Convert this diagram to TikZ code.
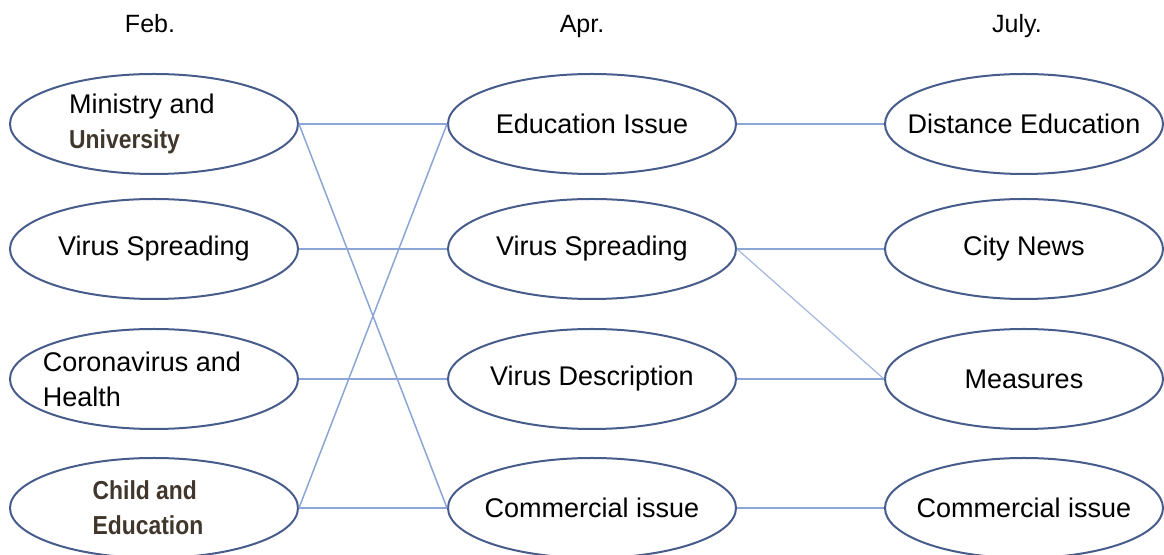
\documentclass[tikz,border=0pt]{standalone}
\usepackage{fontspec}
\setmainfont{Liberation Sans}
\newfontfamily\condbold{Liberation Sans}[FakeStretch=0.88]
\usetikzlibrary{shapes.geometric}
\definecolor{ellblue}{RGB}{72,92,140}
\definecolor{linkblue}{RGB}{140,165,215}
\definecolor{textbrown}{RGB}{64,54,44}

\begin{document}
\begin{tikzpicture}[x=0.5pt,y=-0.5pt,
    topic/.style={draw=ellblue,line width=1pt,ellipse,inner sep=0pt,inner xsep=-14pt,
      minimum width=144pt,minimum height=50pt,align=left,
      font=\fontsize{13.5}{17.5}\selectfont},
    boldtopic/.style={topic,text=textbrown,font=\fontsize{13}{17.5}\condbold\bfseries},
    month/.style={anchor=base,font=\fontsize{12.5}{15}\selectfont},
    link/.style={draw=linkblue,line width=0.75pt}]
        \useasboundingbox (0,0) rectangle (1164,555);

        \node[month] (hfeb) at (150,33) {Feb.};
        \node[month] (hapr) at (582,33) {Apr.};
        \node[month] (hjul) at (1017,33) {July.};

        \node[topic] (feb1) at (154,124) {Ministry and\hspace*{12pt}\\\textcolor{textbrown}{\fontsize{13}{17.5}\condbold\bfseries University}};
        \node[topic] (feb2) at (154,249) {Virus Spreading};
        \node[topic] (feb3) at (154,379) {Coronavirus and\hspace*{12pt}\\Health};
        \node[boldtopic] (feb4) at (154,508) {Child and\\Education\hspace*{6pt}};

        \node[topic] (apr1) at (592,124) {Education Issue};
        \node[topic] (apr2) at (592,249) {Virus Spreading};
        \node[topic] (apr3) at (592,379) {Virus Description};
        \node[topic] (apr4) at (592,508) {Commercial issue};

        \node[topic,minimum width=139pt] (jul1) at (1024,124) {Distance Education};
        \node[topic,minimum width=139pt] (jul2) at (1024,249) {City News};
        \node[topic,minimum width=139pt] (jul3) at (1024,379) {Measures};
        \node[topic,minimum width=139pt] (jul4) at (1024,508) {Commercial issue};

        \path[link] (feb1.east) -- (apr1.west);
        \path[link] (feb1.east) -- (apr4.west);
        \path[link] (feb2.east) -- (apr2.west);
        \path[link] (feb3.east) -- (apr3.west);
        \path[link] (feb4.east) -- (apr1.west);
        \path[link] (feb4.east) -- (apr4.west);

        \path[link] (apr1.east) -- (jul1.west);
        \path[link] (apr2.east) -- (jul2.west);
        \path[link,draw=linkblue!80,line width=0.6pt] (apr2.east) -- (jul3.west);
        \path[link] (apr3.east) -- (jul3.west);
        \path[link] (apr4.east) -- (jul4.west);
      \end{tikzpicture}
\end{document}
